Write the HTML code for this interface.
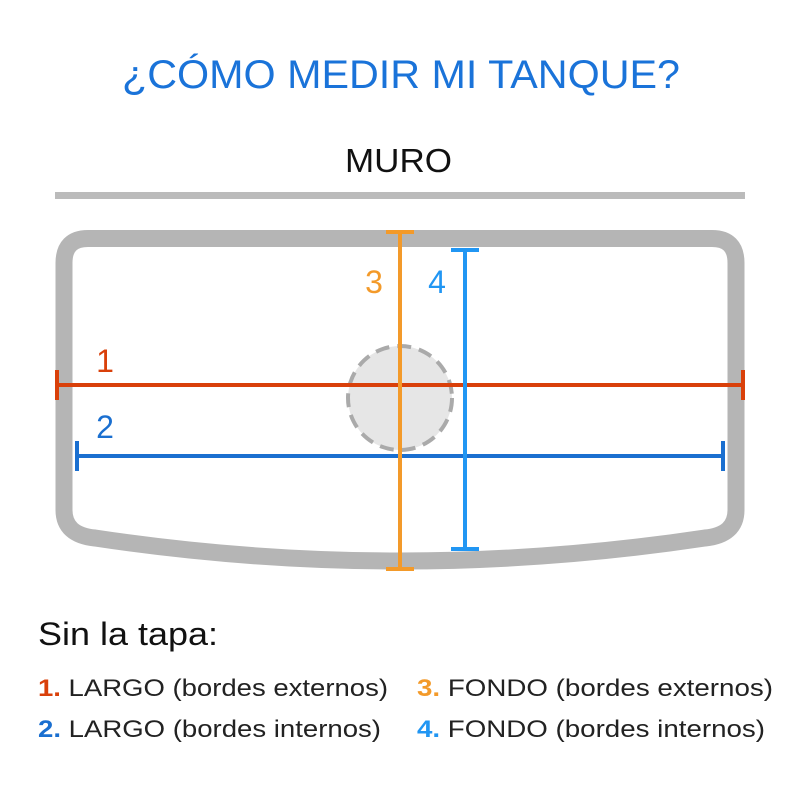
<!DOCTYPE html>
<html><head><meta charset="utf-8"><style>
body{margin:0;background:#fff;width:801px;height:801px;overflow:hidden;font-family:"Liberation Sans",sans-serif}
</style></head><body>
<svg width="801" height="801" viewBox="0 0 801 801" xmlns="http://www.w3.org/2000/svg" font-family="Liberation Sans, sans-serif">
<text x="122" y="88" font-size="40" fill="#1a73d9" textLength="558" lengthAdjust="spacingAndGlyphs">¿CÓMO MEDIR MI TANQUE?</text>
<text x="345" y="172" font-size="33" fill="#111" textLength="107" lengthAdjust="spacingAndGlyphs">MURO</text>
<rect x="55" y="192" width="690" height="7" fill="#bbb"/>
<path d="M88 238.5 H712 Q736 238.5 736 263 V510 Q736 535 705 538 Q400 584 95 538 Q64 535 64 510 V263 Q64 238.5 88 238.5 Z" fill="none" stroke="#b5b5b5" stroke-width="17"/>
<circle cx="400" cy="398" r="52" fill="#e6e6e6" stroke="#aaa" stroke-width="4" stroke-dasharray="14 8"/>
<g stroke="#d9400a" stroke-width="4"><line x1="55" y1="385" x2="745" y2="385"/><line x1="57" y1="370" x2="57" y2="400"/><line x1="743" y1="370" x2="743" y2="400"/></g>
<g stroke="#1a6fd0" stroke-width="4"><line x1="75" y1="456" x2="725" y2="456"/><line x1="77" y1="441" x2="77" y2="471"/><line x1="723" y1="441" x2="723" y2="471"/></g>
<g stroke="#f39a2a" stroke-width="4"><line x1="400" y1="230" x2="400" y2="570"/><line x1="386" y1="232" x2="414" y2="232"/><line x1="386" y1="569" x2="414" y2="569"/></g>
<g stroke="#2196f3" stroke-width="4"><line x1="465" y1="249" x2="465" y2="550"/><line x1="451" y1="250" x2="479" y2="250"/><line x1="451" y1="549" x2="479" y2="549"/></g>
<text x="105" y="372" text-anchor="middle" font-size="32" fill="#d9400a">1</text>
<text x="105" y="438" text-anchor="middle" font-size="32" fill="#1a6fd0">2</text>
<text x="374" y="293" text-anchor="middle" font-size="32" fill="#f39a2a">3</text>
<text x="437" y="293" text-anchor="middle" font-size="32" fill="#2196f3">4</text>
<text x="38" y="645" font-size="32" fill="#111" textLength="180" lengthAdjust="spacingAndGlyphs">Sin la tapa:</text>
<g font-size="24" fill="#222">
<text x="38" y="696" textLength="350" lengthAdjust="spacingAndGlyphs"><tspan fill="#d9400a" font-weight="bold">1.</tspan> LARGO (bordes externos)</text>
<text x="38" y="737" textLength="343" lengthAdjust="spacingAndGlyphs"><tspan fill="#1a6fd0" font-weight="bold">2.</tspan> LARGO (bordes internos)</text>
<text x="417" y="696" textLength="356" lengthAdjust="spacingAndGlyphs"><tspan fill="#f39a2a" font-weight="bold">3.</tspan> FONDO (bordes externos)</text>
<text x="417" y="737" textLength="348" lengthAdjust="spacingAndGlyphs"><tspan fill="#2196f3" font-weight="bold">4.</tspan> FONDO (bordes internos)</text>
</g>
</svg>
</body></html>
